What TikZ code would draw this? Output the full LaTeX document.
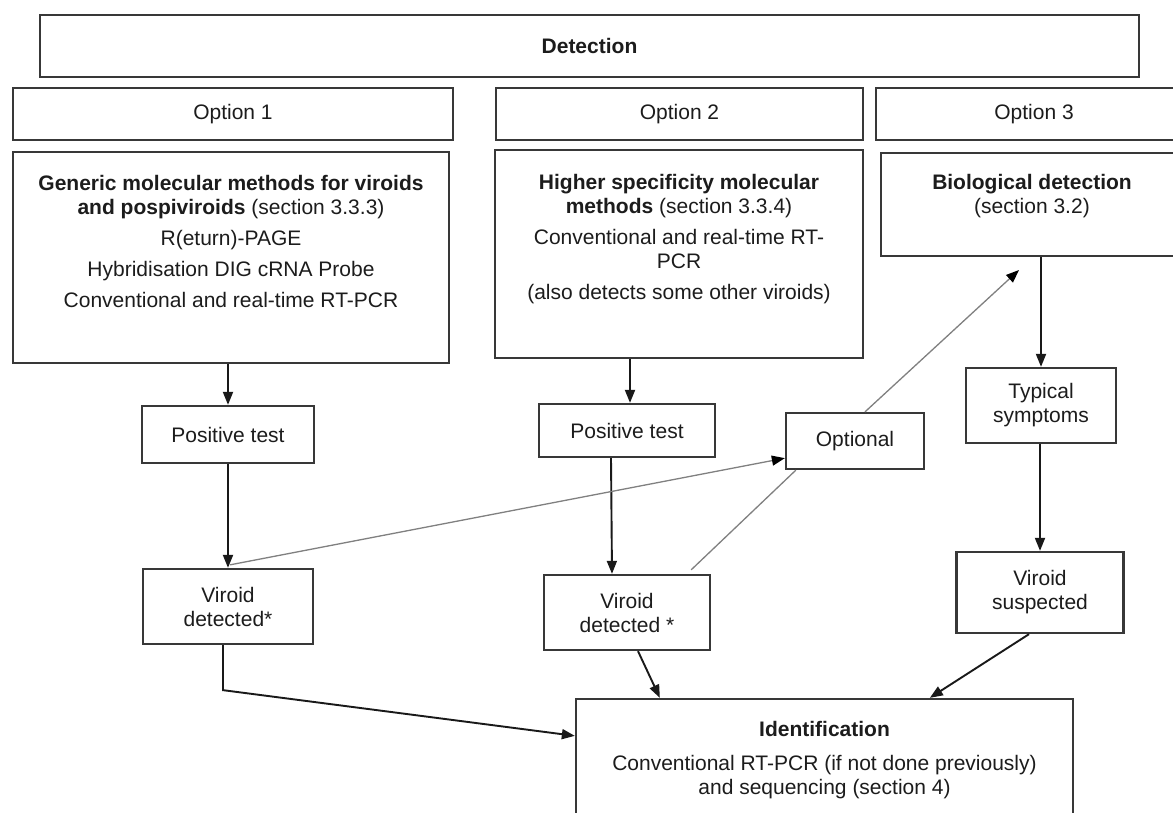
\documentclass[tikz,border=0pt]{standalone}
\usepackage{fontspec}
\setmainfont{Liberation Sans}
\usetikzlibrary{arrows.meta,calc}
\definecolor{boxc}{HTML}{383838}
\definecolor{txtc}{HTML}{1C1C1C}
\definecolor{thinc}{HTML}{808080}
\begin{document}
\begin{tikzpicture}[x=1pt,y=-1pt,
  font=\fontsize{21}{24}\selectfont,
  boxnode/.style={draw=boxc, line width=2.3pt, inner sep=0pt, fill=white, text=txtc, align=center},
  txtnode/.style={inner sep=0pt, text=txtc, align=center, anchor=north},
  arr/.style={draw=black!90, line width=1.9pt, -{Triangle[length=13pt,width=10pt]}},
  thin/.style={draw=thinc, line width=1.3pt},
  thinarr/.style={thin, -{Triangle[length=13pt,width=10pt,fill=black,color=black]}}]
\useasboundingbox (0,0) rectangle (1173,813);
\fill[white] (0,0) rectangle (1173,813);
\clip (0,0) rectangle (1173,813);

% header boxes
\node[boxnode, minimum width=1099, minimum height=62] (det) at (589.5,46) {\textbf{Detection}};
\node[boxnode, minimum width=440, minimum height=52] (opt1) at (233,114) {Option 1};
\node[boxnode, minimum width=367, minimum height=52] (opt2) at (679.5,114) {Option 2};
\node[boxnode, minimum width=316, minimum height=52] (opt3) at (1034,114) {Option 3};

% method boxes
\node[boxnode, minimum width=436, minimum height=211] (gen) at (231,257.5) {};
\node[txtnode] (gentxt) at (231,175.5) {\textbf{Generic molecular methods for viroids}\\\textbf{and pospiviroids} (section 3.3.3)\\[7pt]R(eturn)-PAGE\\[7pt]Hybridisation DIG cRNA Probe\\[7pt]Conventional and real-time RT-PCR};
\node[boxnode, minimum width=368, minimum height=208] (hi) at (679,254) {};
\node[txtnode] (hitxt) at (679,174.5) {\textbf{Higher specificity molecular}\\\textbf{methods} (section 3.3.4)\\[7pt]Conventional and real-time RT-\\PCR\\[7pt](also detects some other viroids)};
\node[boxnode, minimum width=302, minimum height=103] (bio) at (1032,204.5) {};
\node[txtnode] (biotxt) at (1032,174.5) {\textbf{Biological detection}\\(section 3.2)};

% intermediate boxes
\node[boxnode, minimum width=172, minimum height=57] (pt1) at (228,434.5) {Positive test};
\node[boxnode, minimum width=176, minimum height=53] (pt2) at (627,430.5) {Positive test};
\node[boxnode, minimum width=138, minimum height=56] (optl) at (855,441) {Optional};
\node[boxnode, minimum width=150, minimum height=75] (typ) at (1041,405.5) {Typical\\symptoms};

\node[boxnode, minimum width=170, minimum height=75] (vd1) at (228,606.5) {Viroid\\detected*};
\node[boxnode, minimum width=166, minimum height=75] (vd2) at (627,612.5) {Viroid\\detected *};
\node[boxnode, minimum width=167, minimum height=81] (vs) at (1040,592.5) {Viroid\\suspected};

% identification box
\node[boxnode, minimum width=497, minimum height=140] (ident) at (824.5,769) {};
\node[txtnode] (identtxt) at (824.5,721.5) {\textbf{Identification}\\[10pt]Conventional RT-PCR (if not done previously)\\and sequencing (section 4)};

\coordinate (optend) at (1019,270);

% connectors
\draw[arr] (gen.south -| pt1.north) -- (pt1.north);
\draw[arr] (pt1.south) -- (vd1.north);
\draw[arr] ($(hi.south)+(-49,0)$) -- ($(pt2.north)+(3,0)$);
\draw[arr] ($(pt2.south)+(-16,0)$) -- ($(vd2.north)+(-15,0)$);
\draw[arr] (bio.south -| typ.north) -- (typ.north);
\draw[arr] (typ.south -| vs.north) -- (vs.north);
\draw[thinarr] ($(vd1.north)+(2,-3)$) -- ($(optl.south west)+(0,-12)$);
\draw[thin] ($(vd2.north east)+(-20,-4)$) -- ($(optl.south west)+(11,0)$);
\draw[thinarr] ($(optl.north)+(10,0)$) -- (optend);
\draw[arr] ($(vd1.south)+(-5,0)$) -- ++(0,45) -- ($(ident.north west)+(0,38)$);
\draw[arr] ($(vd2.south)+(11,0)$) -- ($(ident.north west)+(85,0)$);
\draw[arr] ($(vs.south)+(-11,0)$) -- ($(ident.north west)+(355,0)$);
\end{tikzpicture}
\end{document}
